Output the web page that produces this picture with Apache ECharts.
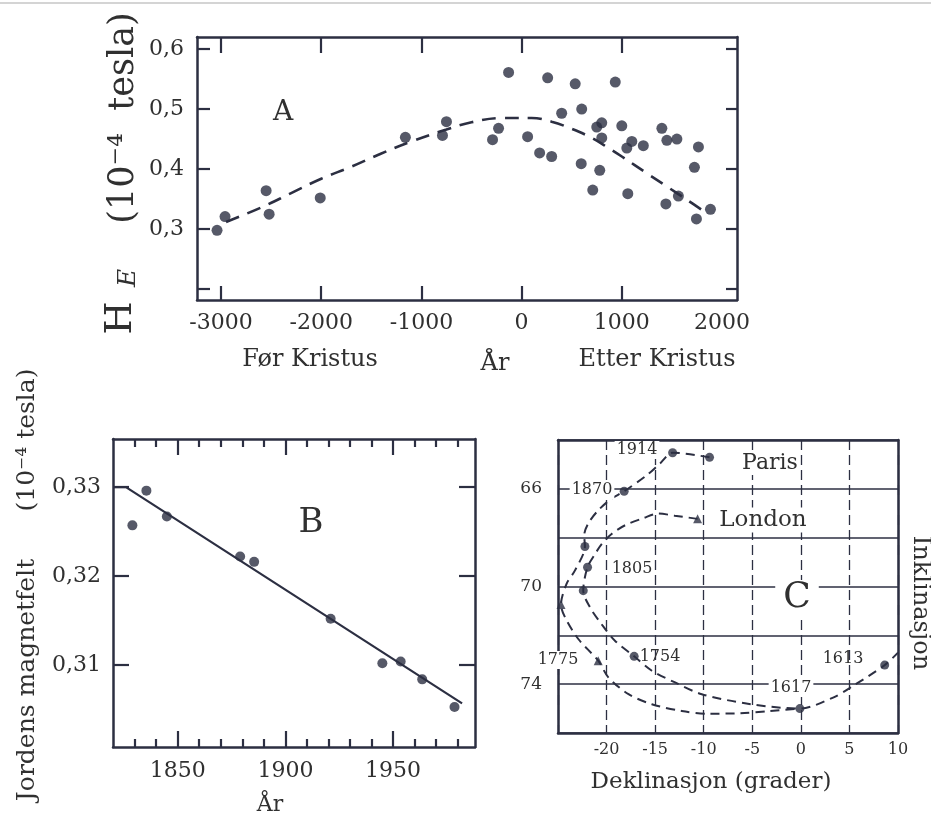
<!DOCTYPE html>
<html>
<head>
<meta charset="utf-8">
<title>Jordens magnetfelt</title>
<script src="https://cdn.jsdelivr.net/npm/echarts@6.0.0/dist/echarts.min.js"></script>
<style>
  html, body { margin: 0; padding: 0; background: #fff; }
  #main { width: 931px; height: 824px; }
</style>
</head>
<body>
<div id="main"></div>
<script>
// --- A: H_E siste 5000 år ---
const aYears = [-3040, -2960, -2550, -2520, -2010, -1160, -750, -790, -290, -230, -130, 60, 180, 260, 300,
  400, 535, 595, 600, 710, 750, 780, 800, 800, 935, 1000, 1050, 1060, 1100, 1215,
  1400, 1440, 1450, 1550, 1565, 1725, 1745, 1765, 1885];
const aValues = [0.298, 0.321, 0.364, 0.325, 0.352, 0.453, 0.479, 0.456, 0.449, 0.468, 0.561, 0.454, 0.427, 0.552, 0.421,
  0.493, 0.542, 0.409, 0.500, 0.365, 0.470, 0.398, 0.477, 0.452, 0.545, 0.472, 0.435, 0.359, 0.446, 0.439,
  0.468, 0.342, 0.448, 0.450, 0.355, 0.403, 0.317, 0.437, 0.333];
const aCurveYears = [-2950, -2600, -2300, -2000, -1700, -1400, -1100, -750, -500, -200, 100, 300, 500, 700, 850, 1000, 1250, 1450, 1650, 1850];
const aCurveValues = [0.312, 0.336, 0.360, 0.384, 0.404, 0.426, 0.446, 0.466, 0.478, 0.485, 0.485, 0.479, 0.467, 0.452, 0.437, 0.421, 0.393, 0.371, 0.349, 0.326];
const aXTicks = [-3000, -2000, -1000, 0, 1000];
const aXLabels = [-3000, -2000, -1000, 0, 1000, 2000];
const aYTicks = [0.2, 0.3, 0.4, 0.5, 0.6];
const aYLabels = [0.3, 0.4, 0.5, 0.6];

// --- B: 1820-1980 ---
const bYears = [1829, 1835.5, 1845, 1879, 1885.5, 1921, 1945, 1953.5, 1963.5, 1978.5];
const bValues = [0.3257, 0.3296, 0.3267, 0.3222, 0.3216, 0.3152, 0.3102, 0.3104, 0.3084, 0.3053];
const bFitYears = [1820, 1826, 1982];
const bFitValues = [0.33, 0.33, 0.3057];
const bMajorTicks = [1850, 1900, 1950];
const bMinorTicks = [1830, 1840, 1860, 1870, 1880, 1890, 1910, 1920, 1930, 1940, 1960, 1970, 1980];
const bYTicks = [0.31, 0.32, 0.33];

// --- C: deklinasjon / inklinasjon ---
const cOuterDecl = [-9.40, -13.20, -14.49, -15.85, -18.19, -19.49, -20.86, -21.89, -22.30, -22.23, -23.25, -24.12, -24.69,
  -24.28, -22.91, -20.86, -19.8, -17.74, -15.34, -12.26, -9.52, -6.27, -3.18, -0.10];
const cOuterIncl = [64.71, 64.52, 64.96, 65.44, 66.10, 66.40, 66.88, 67.42, 67.90, 68.36, 69.34, 69.89, 70.74,
  71.26, 72.15, 73.04, 73.73, 74.41, 74.82, 75.10, 75.21, 75.19, 75.10, 75.00];
const cInnerDecl = [-10.63, -13.0, -14.69, -16.2, -18.08, -19.45, -20.48, -21.17, -21.96, -22.40, -21.71, -20.52, -19.14,
  -17.16, -15.34, -12.95, -10.2, -5.17, -0.10, 3.32, 5.38, 8.63, 10.0];
const cInnerIncl = [67.23, 67.10, 67.01, 67.20, 67.49, 67.84, 68.25, 68.66, 69.21, 70.17, 70.85, 71.54, 72.22,
  72.86, 73.45, 73.93, 74.41, 74.82, 75.00, 74.55, 74.07, 73.22, 72.71];
const cDotDecl = [-9.40, -13.20, -18.19, -22.23, -21.96, -22.40, -17.16, -0.10, 8.63];
const cDotIncl = [64.71, 64.52, 66.10, 68.36, 69.21, 70.17, 72.86, 75.00, 73.22];
const cTriDecl = [-10.63, -24.69, -20.86];
const cTriIncl = [67.23, 70.74, 73.04];

const ink = '#2c2f42';
const textInk = '#303030';
const serif = '"DejaVu Serif", "Liberation Serif", serif';

const zip = (xs, ys) => xs.map((x, i) => [x, ys[i]]);
const comma = d => v => v.toFixed(d).replace('.', ',');

// one side of a panel frame
function edge(gridIndex, position, min, max, opts) {
  return Object.assign({
    type: 'value', gridIndex: gridIndex, position: position, min: min, max: max,
    axisLine: { show: true, onZero: false, lineStyle: { color: ink, width: 2.5 } },
    axisTick: { show: false },
    axisLabel: { show: false },
    splitLine: { show: false }
  }, opts || {});
}
function ticks(values, len) {
  return { show: true, inside: true, length: len, customValues: values, lineStyle: { color: ink, width: 2.2 } };
}
function labels(values, fmt, size, margin) {
  return { show: true, customValues: values, formatter: fmt, fontFamily: serif, fontSize: size, color: textInk, margin: margin };
}

function txt(text, x, y, size, extra) {
  const e = extra || {};
  return {
    type: 'text', x: x, y: y, z: 100, rotation: e.rotation || 0, silent: true,
    style: Object.assign({
      text: text, fontFamily: serif, fontSize: size, fill: textInk,
      align: 'center', verticalAlign: 'middle'
    }, e.style || {})
  };
}
const white = { backgroundColor: '#fff', padding: [1, 2] };

const chart = echarts.init(document.getElementById('main'));
chart.setOption({
  animation: false,
  backgroundColor: '#fff',
  grid: [
    { left: 197, top: 37, width: 540, height: 263, containLabel: false, outerBoundsMode: 'none' },
    { left: 113, top: 439, width: 362, height: 308, containLabel: false, outerBoundsMode: 'none' },
    { left: 558, top: 440, width: 340, height: 293, containLabel: false, outerBoundsMode: 'none' }
  ],
  xAxis: [
    edge(0, 'bottom', -3240, 2150, {
      axisTick: ticks(aXTicks, 14),
      axisLabel: labels(aXLabels, v => String(v), 22, 12)
    }),
    edge(0, 'top', -3240, 2150, { axisTick: ticks(aXTicks, 16) }),
    edge(1, 'bottom', 1820, 1988, {
      axisTick: ticks(bMajorTicks, 16),
      axisLabel: labels(bMajorTicks, v => String(v), 22, 13)
    }),
    edge(1, 'top', 1820, 1988, { axisTick: ticks(bMajorTicks, 16) }),
    edge(1, 'bottom', 1820, 1988, { axisLine: { show: false, onZero: false }, axisTick: ticks(bMinorTicks, 8) }),
    edge(1, 'top', 1820, 1988, { axisLine: { show: false, onZero: false }, axisTick: ticks(bMinorTicks, 8) }),
    edge(2, 'bottom', -25, 10, {
      interval: 5,
      splitLine: { show: true, lineStyle: { color: ink, width: 1.3, type: [10, 5] } },
      axisLabel: { show: true, showMinLabel: false, showMaxLabel: true, formatter: v => String(v),
        fontFamily: serif, fontSize: 16, color: textInk, margin: 9 }
    }),
    edge(2, 'top', -25, 10)
  ],
  yAxis: [
    edge(0, 'left', 0.182, 0.62, {
      axisTick: ticks(aYTicks, 13),
      axisLabel: labels(aYLabels, comma(1), 22, 13)
    }),
    edge(0, 'right', 0.182, 0.62, { axisTick: ticks(aYTicks, 11) }),
    edge(1, 'left', 0.3008, 0.3354, {
      axisTick: ticks(bYTicks, 16),
      axisLabel: labels(bYTicks, comma(2), 22, 12)
    }),
    edge(1, 'right', 0.3008, 0.3354, { axisTick: ticks(bYTicks, 16) }),
    edge(2, 'left', 64, 76, {
      inverse: true, interval: 2,
      splitLine: { show: true, lineStyle: { color: ink, width: 1.5 } },
      axisLabel: { show: true, formatter: v => (v % 4 === 2 ? String(v) : ''),
        fontFamily: serif, fontSize: 17, color: textInk, margin: 16 }
    }),
    edge(2, 'right', 64, 76, { inverse: true })
  ],
  series: [
    { type: 'line', xAxisIndex: 0, yAxisIndex: 0, data: zip(aCurveYears, aCurveValues), smooth: 0.4,
      symbol: 'none', silent: true, lineStyle: { color: ink, width: 2.6, type: [14, 9] } },
    { type: 'scatter', xAxisIndex: 0, yAxisIndex: 0, data: zip(aYears, aValues), symbolSize: 11,
      silent: true, itemStyle: { color: ink } },
    { type: 'line', xAxisIndex: 2, yAxisIndex: 2, data: zip(bFitYears, bFitValues),
      symbol: 'none', silent: true, lineStyle: { color: ink, width: 2.2 } },
    { type: 'scatter', xAxisIndex: 2, yAxisIndex: 2, data: zip(bYears, bValues), symbolSize: 10,
      silent: true, itemStyle: { color: ink } },
    { type: 'line', xAxisIndex: 6, yAxisIndex: 4, data: zip(cOuterDecl, cOuterIncl), smooth: 0.3,
      symbol: 'none', silent: true, lineStyle: { color: ink, width: 2, type: [9, 6] } },
    { type: 'line', xAxisIndex: 6, yAxisIndex: 4, data: zip(cInnerDecl, cInnerIncl), smooth: 0.3,
      symbol: 'none', silent: true, lineStyle: { color: ink, width: 2, type: [9, 6] } },
    { type: 'scatter', xAxisIndex: 6, yAxisIndex: 4, data: zip(cDotDecl, cDotIncl), symbolSize: 9,
      silent: true, itemStyle: { color: ink }, z: 5 },
    { type: 'scatter', xAxisIndex: 6, yAxisIndex: 4, data: zip(cTriDecl, cTriIncl), symbol: 'triangle',
      symbolSize: 9, silent: true, itemStyle: { color: ink }, z: 5 }
  ],
  graphic: [
    { type: 'line', z: 1, silent: true, shape: { x1: 0, y1: 3, x2: 931, y2: 3 }, style: { stroke: '#d4d4d4', lineWidth: 2 } },
    // A
    txt('A', 283, 113, 28),
    txt('Før Kristus', 310, 360, 24),
    txt('År', 495, 364, 24),
    txt('Etter Kristus', 657, 360, 24),
    txt('H', 121, 318, 38, { rotation: Math.PI / 2 }),
    txt('E', 128, 278, 25, { rotation: Math.PI / 2, style: { fontStyle: 'italic' } }),
    txt('(10⁻⁴  tesla)', 124, 118, 35, { rotation: Math.PI / 2 }),
    // B
    txt('B', 311, 523, 34),
    txt('År', 270, 805, 22),
    txt('Jordens magnetfelt', 27, 680, 25, { rotation: Math.PI / 2 }),
    txt('(10⁻⁴ tesla)', 27, 440, 25, { rotation: Math.PI / 2 }),
    // C
    txt('1914', 637, 450, 16, { style: white }),
    txt('Paris', 770, 463, 22, { style: white }),
    txt('1870', 592, 490, 16, { style: white }),
    txt('London', 763, 520, 23, { style: white }),
    txt('1805', 632, 569, 16),
    txt('C', 797, 598, 36, { style: { backgroundColor: '#fff', padding: [0, 8] } }),
    txt('1775', 558, 660, 16, { style: white }),
    txt('1754', 660, 657, 16),
    txt('1613', 843, 659, 16),
    txt('1617', 791, 688, 16, { style: white }),
    txt('Deklinasjon (grader)', 711, 782, 23),
    txt('Inklinasjon', 920, 603, 24, { rotation: -Math.PI / 2 })
  ]
});
</script>
</body>
</html>
